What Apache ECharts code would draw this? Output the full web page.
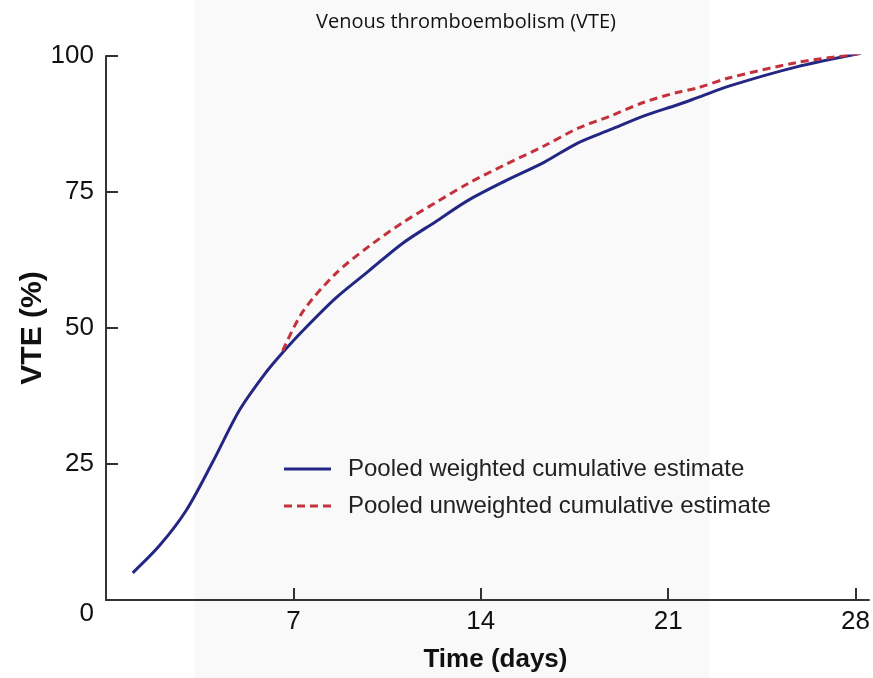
<!DOCTYPE html>
<html>
<head>
<meta charset="utf-8">
<script src="https://cdn.jsdelivr.net/npm/echarts@6/dist/echarts.min.js"></script>
<style>
  html, body { margin: 0; padding: 0; background: #fff; }
  #main { width: 873px; height: 678px; }
</style>
</head>
<body>
<div id="main"></div>
<script>
// days / cumulative VTE (%)
const weightedDays = [1.0, 2.0, 3.0, 4.0, 5.0, 6.0, 6.6, 7.35, 8.58, 9.82, 11.06, 12.3, 13.54, 14.9, 16.38, 17.62, 18.86, 20.1, 21.33, 22.07, 23.3, 25.8, 28.2];
const weightedVals = [5, 10, 16.5, 25.5, 35, 42, 45.5, 49.5, 55.5, 60.5, 65.5, 69.5, 73.5, 77, 80.5, 84, 86.5, 89, 91, 92.3, 94.5, 98, 100.5];
const unweightedDays = [6.6, 7.35, 8.58, 9.82, 11.06, 12.3, 13.54, 14.9, 16.38, 17.62, 18.86, 20.1, 21.33, 22.07, 23.3, 25.8, 27.5, 28.2];
const unweightedVals = [45.8, 53, 60, 65, 69.3, 73, 76.6, 80, 83.5, 86.7, 89, 91.5, 93.3, 94.1, 96, 98.8, 100, 100.5];
const xTicks = [7, 14, 21, 28];
const yTicks = [0, 25, 50, 75, 100];
// shaded time window (days)
const shadeStart = 3.3;
const shadeEnd = 22.55;

const pairs = (xs, ys) => xs.map((x, i) => [x, ys[i]]);

const chart = echarts.init(document.getElementById('main'));
const font = 'Liberation Sans, Arial, sans-serif';

chart.setOption({
  animation: false,
  title: {
    text: 'Venous thromboembolism (VTE)',
    left: 461,
    textAlign: 'center',
    top: 7,
    textStyle: { fontFamily: 'Open Sans', fontWeight: 'normal', fontSize: 20, color: '#111' }
  },
  grid: { left: 106, right: 0, top: 56, bottom: 77 },
  legend: {
    orient: 'vertical',
    left: 279,
    top: 451,
    itemWidth: 47,
    itemHeight: 14,
    itemGap: 11,
    textStyle: { fontFamily: font, fontSize: 24, color: '#222', lineHeight: 26, padding: [0, 0, 0, 12] },
    data: [
      { name: 'Pooled weighted cumulative estimate', icon: 'path://M0,0H47V3H0Z' },
      { name: 'Pooled unweighted cumulative estimate', icon: 'path://M0,0H8V3H0Z M13,0H21V3H13Z M26,0H34V3H26Z M39,0H47V3H39Z' }
    ]
  },
  xAxis: {
    type: 'value',
    min: 0,
    max: 28.5,
    interval: 7,
    name: 'Time (days)',
    nameLocation: 'middle',
    nameGap: 47,
    nameMoveOverlap: false,
    nameTextStyle: { fontFamily: font, fontWeight: 'bold', fontSize: 26, color: '#111', padding: [0, 0, 0, 16] },
    axisLine: { lineStyle: { color: '#333', width: 2 } },
    axisTick: { inside: true, length: 12, lineStyle: { color: '#333', width: 2 } },
    axisLabel: {
      fontFamily: font, fontSize: 26, color: '#111', margin: 9,
      showMaxLabel: false,
      formatter: v => (xTicks.includes(v) ? String(v) : '')
    },
    splitLine: { show: false }
  },
  yAxis: {
    type: 'value',
    min: 0,
    max: 100,
    interval: 25,
    name: 'VTE (%)',
    nameLocation: 'middle',
    nameGap: 58,
    nameMoveOverlap: false,
    nameTextStyle: { fontFamily: font, fontWeight: 'bold', fontSize: 30, color: '#111' },
    axisLine: { lineStyle: { color: '#333', width: 2 } },
    axisTick: { inside: true, length: 12, lineStyle: { color: '#333', width: 2 } },
    axisLabel: {
      fontFamily: font, fontSize: 26, color: '#111', margin: 12,
      formatter: v => (v === 0 ? '{z|0}' : (yTicks.includes(v) ? String(v) : '')),
      rich: { z: { fontFamily: font, fontSize: 26, color: '#111', padding: [28, 0, 0, 0] } }
    },
    splitLine: { show: false }
  },
  series: [
    {
      name: 'Pooled weighted cumulative estimate',
      type: 'line',
      data: pairs(weightedDays, weightedVals),
      smooth: 0.3,
      symbol: 'none',
      z: 3,
      lineStyle: { color: '#232783', width: 3 },
      itemStyle: { color: '#232783' }
    },
    {
      name: 'Pooled unweighted cumulative estimate',
      type: 'line',
      data: pairs(unweightedDays, unweightedVals),
      smooth: 0.3,
      symbol: 'none',
      z: 4,
      lineStyle: { color: '#c3323c', width: 3, type: [8, 5] },
      itemStyle: { color: '#c3323c' }
    }
  ]
});

// light background band behind the plot, full page height
const x0 = chart.convertToPixel({ xAxisIndex: 0 }, shadeStart);
const x1 = chart.convertToPixel({ xAxisIndex: 0 }, shadeEnd);
chart.setOption({
  graphic: [{
    type: 'rect',
    z: -10,
    silent: true,
    shape: { x: x0, y: 0, width: x1 - x0, height: 678 },
    style: { fill: '#f9f9f9' }
  }]
});
</script>
</body>
</html>
